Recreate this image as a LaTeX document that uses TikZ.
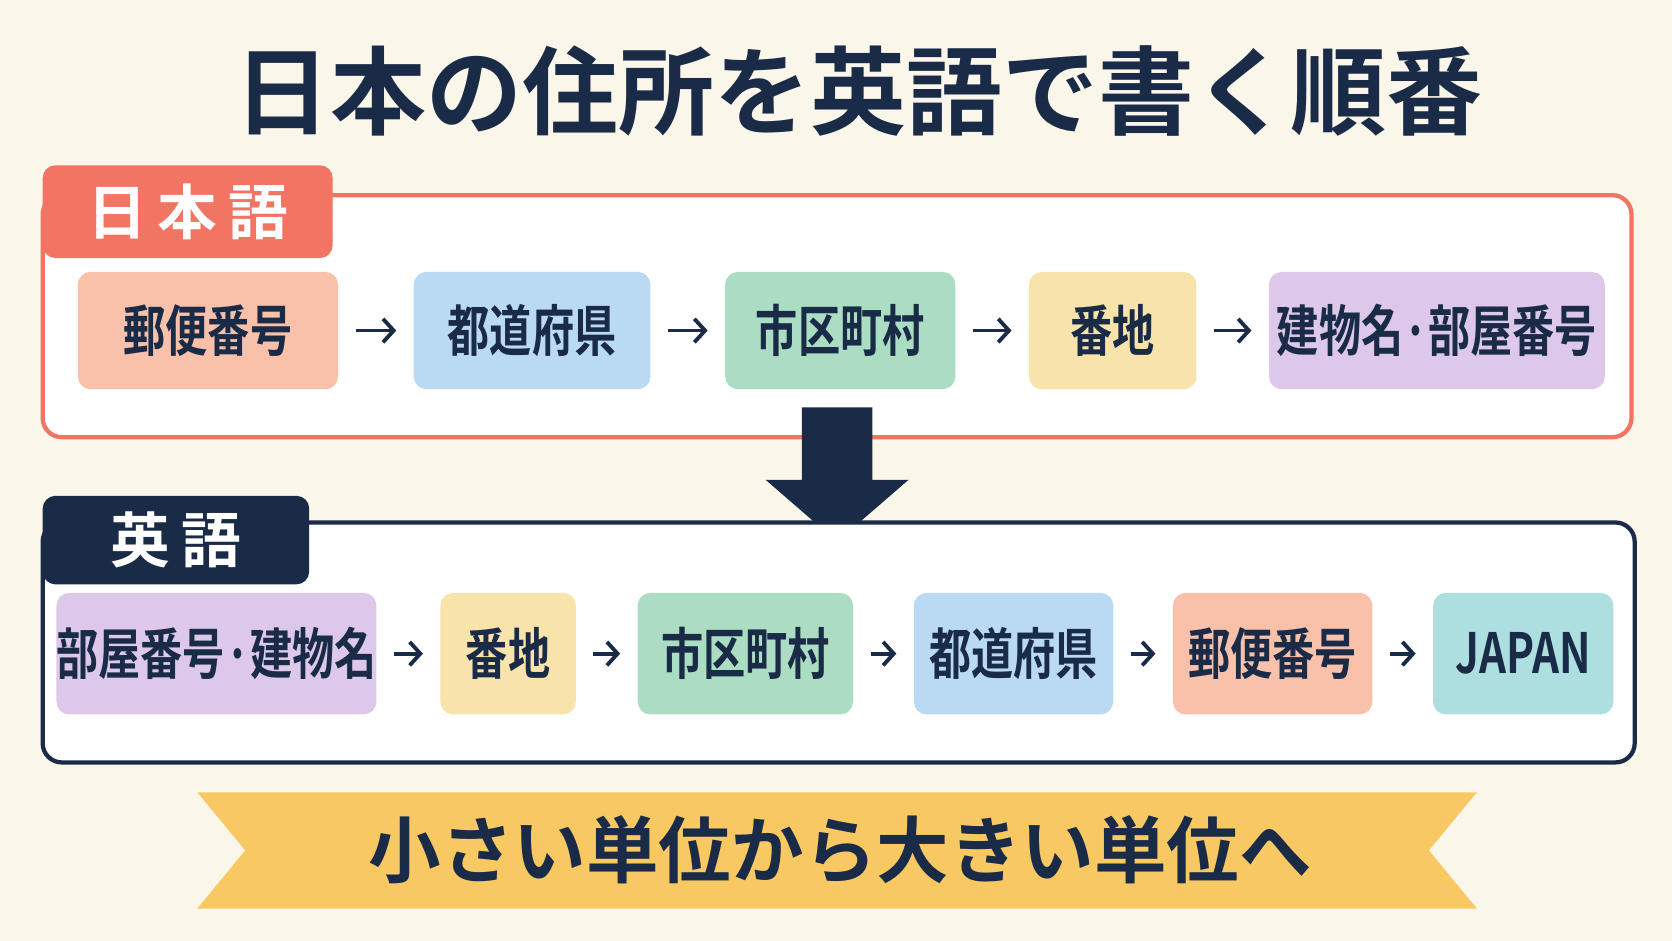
\documentclass[tikz,border=0pt]{standalone}
\usepackage{fontspec}
\newfontfamily\cjk{Noto Sans CJK JP Bold}
\newfontfamily\cjkc[FakeStretch=0.76]{Noto Sans CJK JP Bold}
\newfontfamily\cjkw[LetterSpace=18]{Noto Sans CJK JP Bold}
\usetikzlibrary{positioning,arrows.meta}
\definecolor{navy}{HTML}{1A2B48}
\definecolor{salmon}{HTML}{F27462}
\definecolor{cream}{HTML}{FBF6EA}
\definecolor{cpink}{HTML}{F9C0AA}
\definecolor{cblue}{HTML}{BAD9F3}
\definecolor{cgreen}{HTML}{AADDC2}
\definecolor{cyellow}{HTML}{F8E4AA}
\definecolor{cpurple}{HTML}{DDC8E9}
\definecolor{cteal}{HTML}{AEDFE0}
\definecolor{ribbon}{HTML}{F8C963}
\tikzset{
  box/.style={rounded corners=6pt, inner sep=0pt, minimum height=55pt, text=navy, font=\cjkc\fontsize{26}{28}\selectfont},
  flow/.style={-{Straight Barb[length=5pt,width=11pt]}, line width=1.8pt, navy, shorten <=8pt, shorten >=8pt},
  tab/.style={rounded corners=6pt, inner sep=0pt, text=white, font=\cjkw\fontsize{28}{30}\selectfont}
}
\begin{document}
\begin{tikzpicture}[x=0.5pt,y=-0.5pt]
  \useasboundingbox[fill=cream] (0,0) rectangle (1568,882);
  \node[text=navy, font=\cjk\fontsize{45}{50}\selectfont] (title) at (805,85) {日本の住所を英語で書く順番};
  % 日本語
  \draw[salmon, line width=2pt, fill=white, rounded corners=9pt] (40,183) rectangle (1530,410);
  \node[tab, fill=salmon, minimum width=136pt, minimum height=43.5pt] (jptab) at (176,198.5) {日本語};
  \node[box, fill=cpink, minimum width=122pt] (j1) at (195,310) {郵便番号};
  \node[box, fill=cblue, minimum width=111pt] (j2) at (499,310) {都道府県};
  \node[box, fill=cgreen, minimum width=108pt] (j3) at (788,310) {市区町村};
  \node[box, fill=cyellow, minimum width=78.5pt] (j4) at (1043.5,310) {番地};
  \node[box, fill=cpurple, minimum width=157.5pt] (j5) at (1347.5,310) {建物名·部屋番号};
  \foreach \a/\b in {j1/j2,j2/j3,j3/j4,j4/j5} \draw[flow] (\a) -- (\b);
  % big arrow
  \fill[navy] (752,382) -- (818,382) -- (818,450) -- (852,450) -- (785,508) -- (718,450) -- (752,450) -- cycle;
  % 英語
  \draw[navy, line width=2pt, fill=white, rounded corners=9pt] (40,490) rectangle (1533,715);
  \node[tab, fill=navy, minimum width=125pt, minimum height=41.5pt] (entab) at (165,506.5) {英語};
  \node[box, fill=cpurple, minimum width=150pt, minimum height=57pt] (e1) at (203,613) {部屋番号·建物名};
  \node[box, fill=cyellow, minimum width=63.5pt, minimum height=57pt] (e2) at (476.5,613) {番地};
  \node[box, fill=cgreen, minimum width=101pt, minimum height=57pt] (e3) at (699,613) {市区町村};
  \node[box, fill=cblue, minimum width=93.5pt, minimum height=57pt] (e4) at (950.5,613) {都道府県};
  \node[box, fill=cpink, minimum width=93.5pt, minimum height=57pt] (e5) at (1193.5,613) {郵便番号};
  \node[box, fill=cteal, minimum width=84.5pt, minimum height=57pt] (e6) at (1428.5,613) {JAPAN};
  \foreach \a/\b in {e1/e2,e2/e3,e3/e4,e4/e5,e5/e6} \draw[flow] (\a) -- (\b);
  % ribbon
  \fill[ribbon] (185,743) -- (1385,743) -- (1340,797.5) -- (1385,852) -- (185,852) -- (230,797.5) -- cycle;
  \node[text=navy, font=\cjk\fontsize{34}{38}\selectfont] (motto) at (788,797) {小さい単位から大きい単位へ};
\end{tikzpicture}
\end{document}
